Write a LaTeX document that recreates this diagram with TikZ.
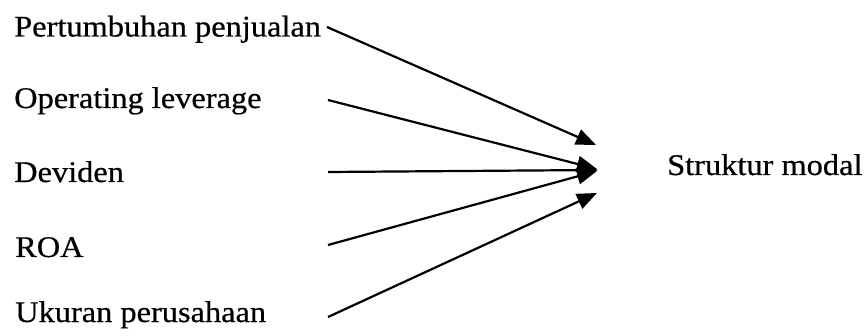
\documentclass[tikz,border=0pt]{standalone}
\usepackage{fontspec}
\setmainfont{Liberation Serif}[FakeStretch=1.08,FakeBold=0.6]
\usetikzlibrary{arrows.meta}
\begin{document}
\begin{tikzpicture}[x=1pt,y=-1pt,
  lbl/.style={anchor=base west,inner sep=0pt,font=\fontsize{30}{36}\selectfont},
  conn/.style={line width=2.2pt,-{Triangle[length=20pt,width=16pt]}}]
\useasboundingbox (0,0) rectangle (866,336);
\node[lbl] (pp) at (14,36.5) {Pertumbuhan penjualan};
\node[lbl] (ol) at (14,108) {Operating leverage};
\node[lbl] (dv) at (14,182) {Deviden};
\node[lbl] (roa) at (15,257) {ROA};
\node[lbl] (up) at (15,322) {Ukuran perusahaan};
\node[lbl] (sm) at (667,175) {Struktur modal};
\coordinate (s1) at (327,27);
\coordinate (s2) at (328,100);
\coordinate (s3) at (328,172);
\coordinate (s4) at (328,245);
\coordinate (s5) at (328,317);
\coordinate (t1) at (596,145);
\coordinate (t2) at (597,169);
\coordinate (t3) at (598,170);
\coordinate (t4) at (597,171);
\coordinate (t5) at (597,193);
\draw[conn] (s1) -- (t1);
\draw[conn] (s2) -- (t2);
\draw[conn] (s3) -- (t3);
\draw[conn] (s4) -- (t4);
\draw[conn] (s5) -- (t5);
\end{tikzpicture}
\end{document}
